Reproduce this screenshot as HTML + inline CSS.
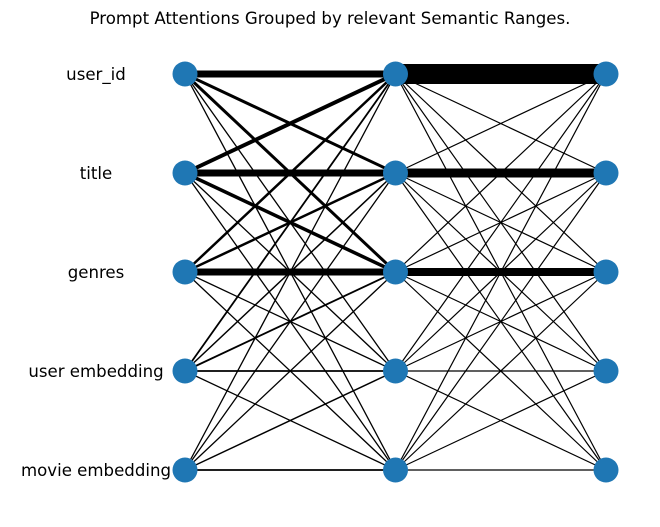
<!DOCTYPE html>
<html><head><meta charset="utf-8"><style>
body{margin:0;background:#fff}
svg text{font-family:"DejaVu Sans","Liberation Sans",sans-serif;fill:#000}
</style></head><body>
<svg id="chart" width="660" height="522" viewBox="0 0 660 522">
<text x="330" y="24" text-anchor="middle" font-size="16.6">Prompt Attentions Grouped by relevant Semantic Ranges.</text>
<g id="edges"></g><g id="nodes"></g><g id="labels"></g>
</svg>
<script>
const labels=["user_id","title","genres","user embedding","movie embedding"];
const w1=[[7,3,3,1.3,1.3],[4,7,3.5,1.3,1.3],[2.5,2.5,7,1.3,1.3],[1.8,1.5,1.8,1.8,1.3],[1.3,1.3,1.3,1.5,1.8]];
const w2=[[20,1.2,1.2,1.2,1.2],[1.2,9,1.2,1.2,1.2],[1.2,1.2,8,1.2,1.2],[1.2,1.2,1.2,1.2,1.2],[1.2,1.2,1.2,1.2,1.2]];
const colX=c=>185+c*210.5;
const rowY=r=>74+r*99;
const NS="http://www.w3.org/2000/svg";
const eg=document.getElementById('edges'),ng=document.getElementById('nodes'),lg=document.getElementById('labels');
[w1,w2].forEach((m,layer)=>{
  m.forEach((row,i)=>row.forEach((w,j)=>{
    const l=document.createElementNS(NS,'line');
    l.setAttribute('x1',colX(layer));l.setAttribute('y1',rowY(i));
    l.setAttribute('x2',colX(layer+1));l.setAttribute('y2',rowY(j));
    l.setAttribute('stroke','#000');l.setAttribute('stroke-width',w);
    
    
    eg.appendChild(l);
  }));
});
for(let c=0;c<3;c++)for(let r=0;r<5;r++){
  const n=document.createElementNS(NS,'circle');
  n.setAttribute('cx',colX(c));n.setAttribute('cy',rowY(r));n.setAttribute('r',12.5);
  n.setAttribute('fill','#1f77b4');
  
  
  ng.appendChild(n);
}
labels.forEach((t,r)=>{
  const tx=document.createElementNS(NS,'text');
  tx.setAttribute('x',96);tx.setAttribute('y',rowY(r)+6);
  tx.setAttribute('text-anchor','middle');tx.setAttribute('font-size','16.6');
  tx.textContent=t;
  
  
  lg.appendChild(tx);
});
</script>
</body></html>
